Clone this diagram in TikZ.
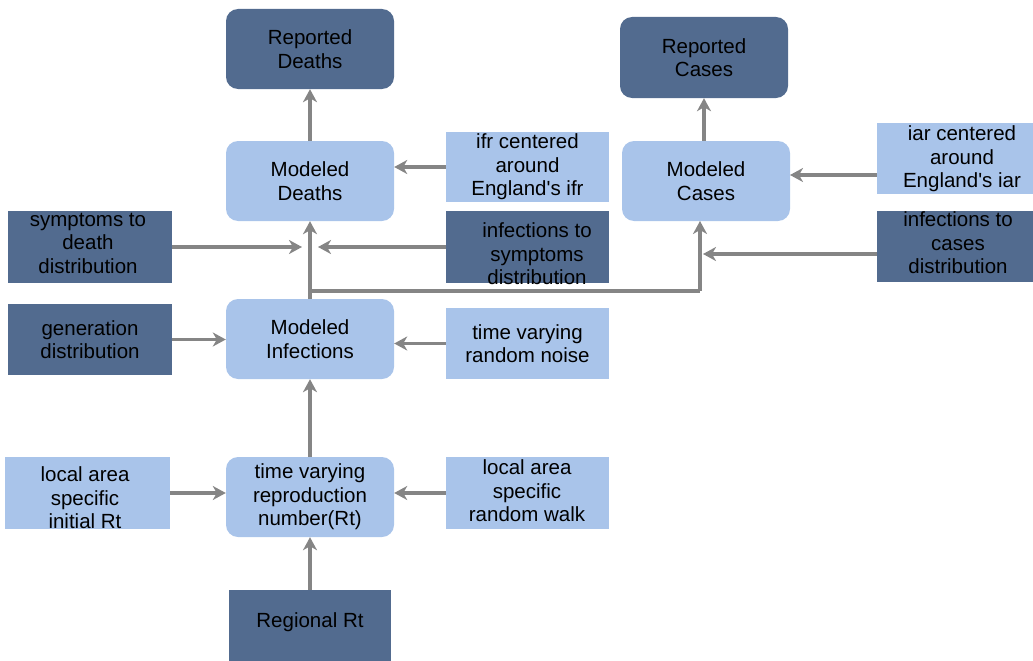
\documentclass[tikz,border=0pt]{standalone}
\usepackage{fontspec}
\setmainfont{Liberation Sans}[Ligatures=TeXOff]
\usetikzlibrary{arrows.meta}
\definecolor{darkfill}{HTML}{526B8F}
\definecolor{lightfill}{HTML}{A9C4EA}
\definecolor{arrowgray}{HTML}{858585}
\begin{document}
\begin{tikzpicture}[x=1pt,y=-1pt,
  base/.style={align=center,inner sep=0pt,font=\fontsize{20.5}{23.5}\selectfont,text=black},
  darkbox/.style={base,fill=darkfill},
  lightbox/.style={base,fill=lightfill},
  roundd/.style={darkbox,rounded corners=12pt,minimum width=168pt,minimum height=80pt},
  roundl/.style={lightbox,rounded corners=12pt,minimum width=168pt,minimum height=80pt},
  arr/.style={draw=arrowgray,line width=3.5pt,-{Stealth[length=13pt,width=14pt,inset=4pt]}},
  ln/.style={draw=arrowgray,line width=3.5pt}]
\useasboundingbox (0,0) rectangle (1033,661);
% rounded nodes
\node[roundd] (RD) at (310,49) {Reported\\Deaths};
\node[roundl] (MD) at (310,181) {Modeled\\Deaths};
\node[roundd,minimum height=81pt] (RC) at (704,57.5) {Reported\\Cases};
\node[roundl] (MC) at (706,181) {Modeled\\Cases};
\node[roundl] (MI) at (310,339) {Modeled\\Infections};
\node[roundl] (Rt) at (310,497) {time varying\\reproduction\\number(Rt)};
% rectangles
\node[lightbox,minimum width=163pt,minimum height=70pt] (ifr) at (527.5,167) {ifr centered\\around\\England's ifr};
\node[darkbox,minimum width=163pt,minimum height=72pt] (its) at (527.5,247) {};
\node[base] (itstext) at (537,254) {infections to\\symptoms\\distribution};
\node[lightbox,minimum width=156pt,minimum height=71pt] (iar) at (955,158.5) {};
\node[base] (iartext) at (962,159) {iar centered\\around\\England's iar};
\node[darkbox,minimum width=156pt,minimum height=71pt] (itc) at (955,246.5) {};
\node[base] (itctext) at (958,243) {infections to\\cases\\distribution};
\node[darkbox,minimum width=164pt,minimum height=72pt] (std) at (90,247) {};
\node[base] (stdtext) at (88,243) {symptoms to\\death\\distribution};
\node[darkbox,minimum width=164pt,minimum height=71pt] (gen) at (90,339.5) {generation\\distribution};
\node[lightbox,minimum width=163pt,minimum height=71pt] (noise) at (527.5,343.5) {time varying\\random noise};
\node[lightbox,minimum width=165pt,minimum height=72pt] (init) at (87.5,493) {};
\node[base] (inittext) at (85,498) {local area\\specific\\initial Rt};
\node[lightbox,minimum width=163pt,minimum height=72pt] (rw) at (527.5,493) {};
\node[base] (rwtext) at (527,491) {local area\\specific\\random walk};
\node[darkbox,minimum width=162pt,minimum height=71pt] (RR) at (310,625.5) {};
\node[base] (RRtext) at (310,622) {Regional Rt};
% junction coordinates
\coordinate (jl) at (302,247);
\coordinate (jr) at (318,247);
\coordinate (jc) at (310,291);
\coordinate (jcase) at (700,291);
\coordinate (mcin) at (700,221);
\coordinate (jcr) at (703,254);
\coordinate (mcr) at (790,175);
% connectors
\draw[arr] (MD.north) -- (RD.south);
\draw[arr] (ifr.west) -- (ifr.west -| MD.east);
\draw[arr] (MI.north) -- (MD.south);
\draw[arr] (std.east) -- (jl);
\draw[arr] (its.west) -- (jr);
\draw[ln] (jc) -- (jcase);
\draw[arr] (jcase) -- (mcin);
\draw[arr] (itc.west |- jcr) -- (jcr);
\draw[arr] (iar.west |- mcr) -- (mcr);
\draw[arr] (MC.north -| RC.south) -- (RC.south);
\draw[arr] (gen.east) -- (gen.east -| MI.west);
\draw[arr] (noise.west) -- (noise.west -| MI.east);
\draw[arr] (Rt.north) -- (MI.south);
\draw[arr] (init.east) -- (init.east -| Rt.west);
\draw[arr] (rw.west) -- (rw.west -| Rt.east);
\draw[arr] (RR.north) -- (Rt.south);
\end{tikzpicture}
\end{document}
